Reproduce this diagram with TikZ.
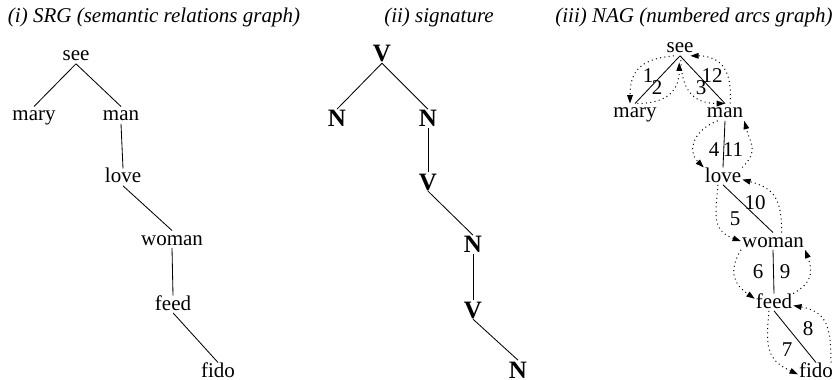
\documentclass[tikz,border=0pt]{standalone}
\usepackage{fontspec}
\setmainfont{Liberation Serif}
\usetikzlibrary{arrows.meta}
\tikzstyle{word} = [anchor=base, inner sep=0.5pt, text height=8pt, text depth=1pt,
font=\fontsize{12.6pt}{14pt}\selectfont]
\tikzstyle{cat} = [anchor=base, inner sep=0.5pt, text height=10pt, text depth=0pt,
font=\fontsize{15pt}{18pt}\selectfont\bfseries]
\tikzstyle{title} = [anchor=base, inner sep=0pt, font=\fontsize{12.6pt}{14pt}\selectfont\itshape]
\tikzstyle{num} = [anchor=base, inner sep=0pt, font=\fontsize{12.6pt}{14pt}\selectfont]
\tikzstyle{edge} = [line width=0.5pt]
\tikzstyle{arc} = [dotted, line width=0.6pt, looseness=1.3, -{Triangle[length=5pt,width=3.4pt]}]

\begin{document}
\begin{tikzpicture}[x=0.6pt, y=0.6pt]
  \useasboundingbox (0,0) rectangle (833,-380);

  % (i) the relations graph
  \node (srgtitle) [title] at (154,-23) {(i) SRG (semantic relations graph)};
  \node (see) [word] at (76,-61) {see};
  \node (mary) [word] at (34,-121) {mary};
  \node (man) [word] at (121,-121) {man};
  \node (love) [word] at (123,-183) {love};
  \node (woman) [word] at (172,-245) {woman};
  \node (feed) [word] at (173,-310) {feed};
  \node (fido) [word] at (218,-377) {fido};
  \foreach \a/\b in {see/mary, see/man, man/love, love/woman, woman/feed, feed/fido}
    \draw[edge] (\a.south) -- (\b.north);

  % (ii) categories only
  \node (sigtitle) [title] at (439,-23) {(ii) signature};
  \node (sv1) [cat] at (382,-62) {V};
  \node (sn1) [cat] at (337,-127) {N};
  \node (sn2) [cat] at (428,-127) {N};
  \node (sv2) [cat] at (428,-190) {V};
  \node (sn3) [cat] at (473,-253) {N};
  \node (sv3) [cat] at (473,-318) {V};
  \node (sn4) [cat] at (518,-378) {N};
  \foreach \a/\b in {sv1/sn1, sv1/sn2, sn2/sv2, sv2/sn3, sn3/sv3, sv3/sn4}
    \draw[edge] (\a.south) -- (\b.north);

  % (iii) same tree, arcs numbered in traversal order
  \node (nagtitle) [title] at (694,-23) {(iii) NAG (numbered arcs graph)};
  \node (nsee) [word] at (680,-53) {see};
  \node (nmary) [word] at (635,-118) {mary};
  \node (nman) [word] at (725,-118) {man};
  \node (nlove) [word] at (723,-182) {love};
  \node (nwoman) [word] at (773,-247) {woman};
  \node (nfeed) [word] at (774,-308) {feed};
  \node (nfido) [word] at (816,-377) {fido};
  \foreach \a/\b in {nsee/nmary, nsee/nman, nman/nlove, nlove/nwoman, nwoman/nfeed, nfeed/nfido}
    \draw[edge] (\a.south) -- (\b.north);

  \draw[arc] (nsee.235) to[out=185, in=90] (nmary.120);
  \draw[arc, shorten >=4pt] (nmary.75) to[out=0, in=-90] (nsee.265);
  \draw[arc] (nsee.275) to[out=-90, in=180] (nman.north);
  \draw[arc] (nman.230) to[out=200, in=135] (nlove.north west);
  \draw[arc] (nlove.240) to[out=265, in=160] (nwoman.west);
  \draw[arc] (nwoman.south west) to[out=240, in=145] (nfeed.170);
  \draw[arc] (nfeed.240) to[out=265, in=155] (nfido.190);
  \draw[arc] (nfido.30) to[out=90, in=-10] (nfeed.-10);
  \draw[arc] (nfeed.north east) to[out=30, in=-70] (nwoman.south east);
  \draw[arc] (nwoman.45) to[out=90, in=-15] (nlove.-10);
  \draw[arc] (nlove.north east) to[out=45, in=-75] (nman.south east);
  \draw[arc] (nman.60) to[out=85, in=0] (nsee.-40);

  \node (l1) [num] at (648,-83) {1};
  \node (l2) [num] at (657,-95) {2};
  \node (l3) [num] at (701,-95) {3};
  \node (l4) [num] at (714,-157) {4};
  \node (l5) [num] at (735,-225) {5};
  \node (l6) [num] at (758,-278) {6};
  \node (l7) [num] at (787,-356) {7};
  \node (l8) [num] at (808,-335) {8};
  \node (l9) [num] at (785,-278) {9};
  \node (l10) [num] at (755,-210) {10};
  \node (l11) [num] at (733,-157) {11};
  \node (l12) [num] at (712,-83) {12};
\end{tikzpicture}
\end{document}
